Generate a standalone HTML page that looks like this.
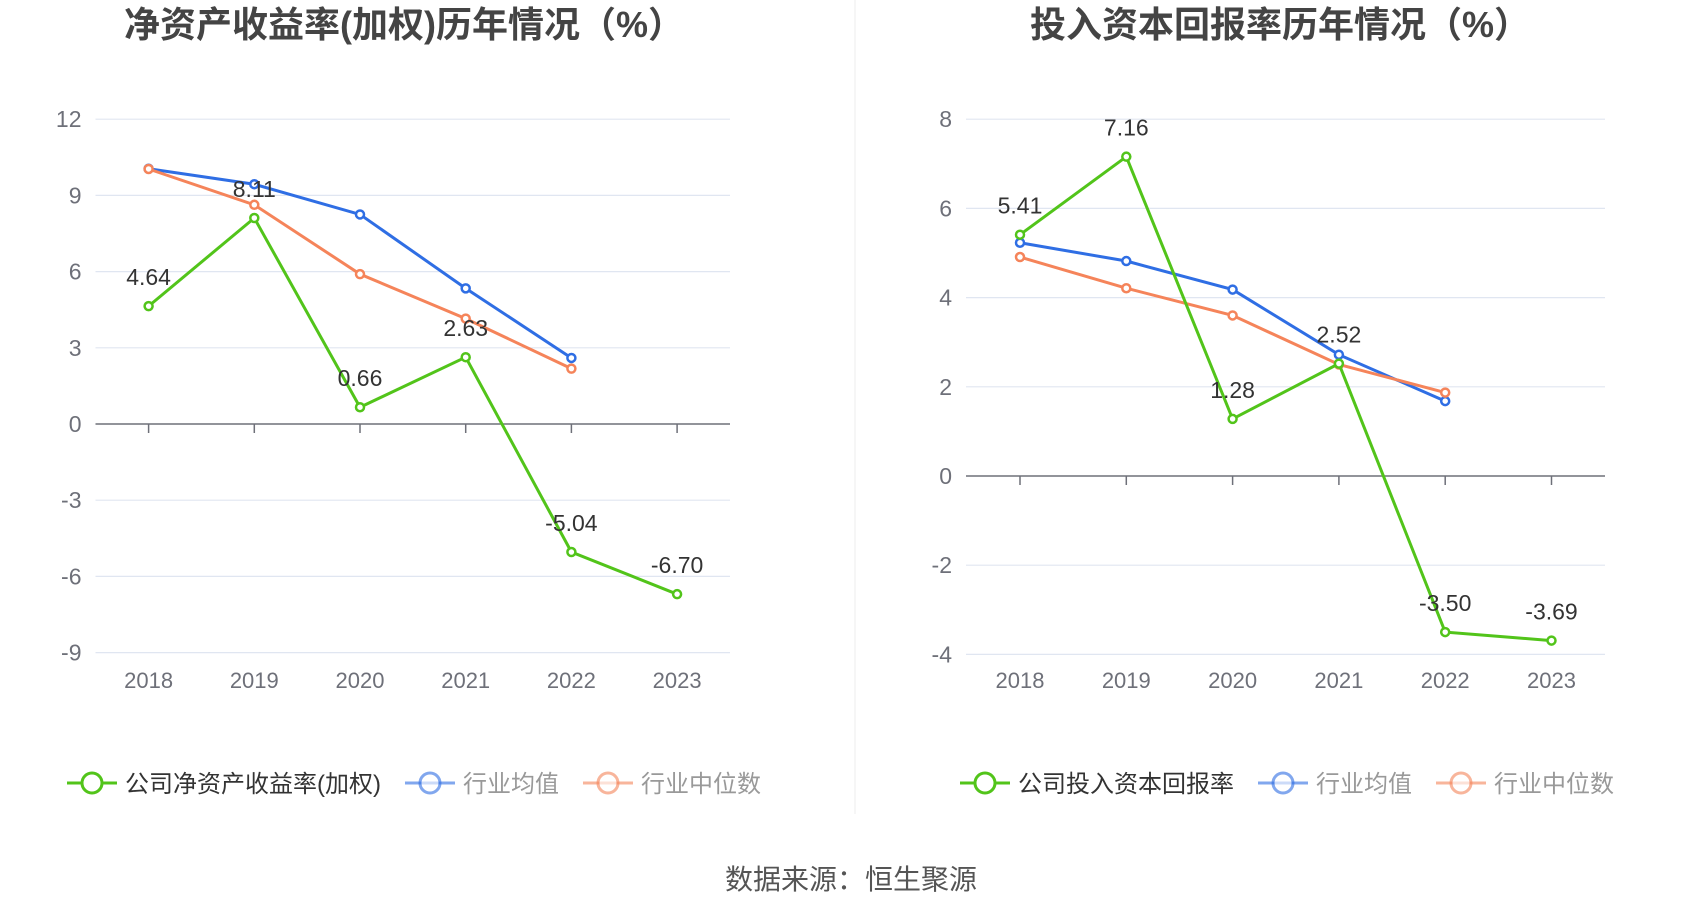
<!DOCTYPE html>
<html><head><meta charset="utf-8">
<style>
html,body{margin:0;padding:0;background:#fff;width:1700px;height:918px;overflow:hidden;font-family:"Liberation Sans","Noto Sans CJK SC",sans-serif;}
svg{position:absolute;left:0;top:0}
</style></head>
<body>
<svg id="svg" width="1700" height="918" xmlns="http://www.w3.org/2000/svg">
<line x1="855" y1="0" x2="855" y2="814" stroke="#eeeeee" stroke-width="1"/>
<text x="404" y="37" text-anchor="middle" font-size="36" font-weight="bold" fill="#444">净资产收益率(加权)历年情况（%）</text>
<text x="1280" y="37" text-anchor="middle" font-size="36" font-weight="bold" fill="#444">投入资本回报率历年情况（%）</text>
<text x="851" y="889" text-anchor="middle" font-size="28" fill="#555">数据来源：恒生聚源</text>
<g id="left"></g><g id="right"></g>
</svg>
<script>
const years=["2018","2019","2020","2021","2022","2023"];
const leftTicks=[12,9,6,3,0,-3,-6,-9];
const leftCompany=[4.64,8.11,0.66,2.63,-5.04,-6.70];
const leftAvg=[10.05,9.44,8.25,5.34,2.6];
const leftMedian=[10.04,8.63,5.9,4.15,2.18];
const rightTicks=[8,6,4,2,0,-2,-4];
const rightCompany=[5.41,7.16,1.28,2.52,-3.50,-3.69];
const rightAvg=[5.23,4.82,4.18,2.72,1.68];
const rightMedian=[4.91,4.21,3.6,2.5,1.87];
const NS="http://www.w3.org/2000/svg";
const GREEN="#52c41a",BLUE="#2f6ee4",ORANGE="#f5845a";
function mk(tag,attrs,parent){const e=document.createElementNS(NS,tag);for(const k in attrs)e.setAttribute(k,attrs[k]);parent.appendChild(e);return e;}
function chart(g,cfg){
  const y=v=>cfg.y0-(v)*cfg.k;
  const x=i=>cfg.x0+i*cfg.step;
  cfg.ticks.forEach(t=>{
    const l=mk('line',{x1:cfg.gx0,x2:cfg.gx1,y1:y(t),y2:y(t),stroke:t===0?'#6e7079':'#e0e6f1','stroke-width':t===0?1.5:1.2},g);
    
    
    const tx=mk('text',{x:cfg.gx0-14,y:y(t)+8,'text-anchor':'end','font-size':23,fill:'#6e7079'},g);
    tx.textContent=t;
    
    
  });
  years.forEach((yr,i)=>{
    const tk=mk('line',{x1:x(i),x2:x(i),y1:y(0),y2:y(0)+9,stroke:'#6e7079','stroke-width':1.5},g);
    
    
    const tx=mk('text',{x:x(i),y:cfg.xlabY,'text-anchor':'middle','font-size':22,fill:'#6e7079'},g);
    tx.textContent=yr;
    
    
  });
  const series=[[cfg.avg,BLUE,'industry-average'],[cfg.med,ORANGE,'industry-median'],[cfg.comp,GREEN,'company']];
  series.forEach(([d,c,n])=>{
    const p=mk('polyline',{points:d.map((v,i)=>x(i)+','+y(v)).join(' '),fill:'none',stroke:c,'stroke-width':3},g);
    
    
    d.forEach((v,i)=>{
      const pt=mk('circle',{cx:x(i),cy:y(v),r:4,fill:'#fff',stroke:c,'stroke-width':2.5},g);
      
      
    });
  });
  cfg.comp.forEach((v,i)=>{
    const t=mk('text',{x:x(i),y:y(v)-21,'text-anchor':'middle','font-size':23,fill:'#333'},g);
    t.textContent=v.toFixed(2);
    
    
  });
  let lx=cfg.legX;const ly=783;
  cfg.legend.forEach(([label,c,tc])=>{
    const lg=mk('g',{},g);
    
    
    mk('line',{x1:lx,x2:lx+50,y1:ly,y2:ly,stroke:c,'stroke-width':3,opacity:tc==='#333'?1:0.6},lg);
    mk('circle',{cx:lx+25,cy:ly,r:10,fill:'#fff',stroke:c,'stroke-width':3,opacity:tc==='#333'?1:0.6},lg);
    const t=mk('text',{x:lx+58,y:ly+9,'font-size':24,fill:tc},lg);
    t.textContent=label;
    lx+=58+t.getComputedTextLength()+24;
  });
}
chart(document.getElementById('left'),{y0:424,k:25.4,x0:148.6,step:105.7,gx0:95.5,gx1:730,xlabY:688,ticks:leftTicks,comp:leftCompany,avg:leftAvg,med:leftMedian,legX:67,
  legend:[['公司净资产收益率(加权)',GREEN,'#333'],['行业均值',BLUE,'#999'],['行业中位数',ORANGE,'#999']]});
chart(document.getElementById('right'),{y0:476,k:44.6,x0:1020,step:106.3,gx0:966,gx1:1605,xlabY:688,ticks:rightTicks,comp:rightCompany,avg:rightAvg,med:rightMedian,legX:960,
  legend:[['公司投入资本回报率',GREEN,'#333'],['行业均值',BLUE,'#999'],['行业中位数',ORANGE,'#999']]});
</script>
</body></html>
